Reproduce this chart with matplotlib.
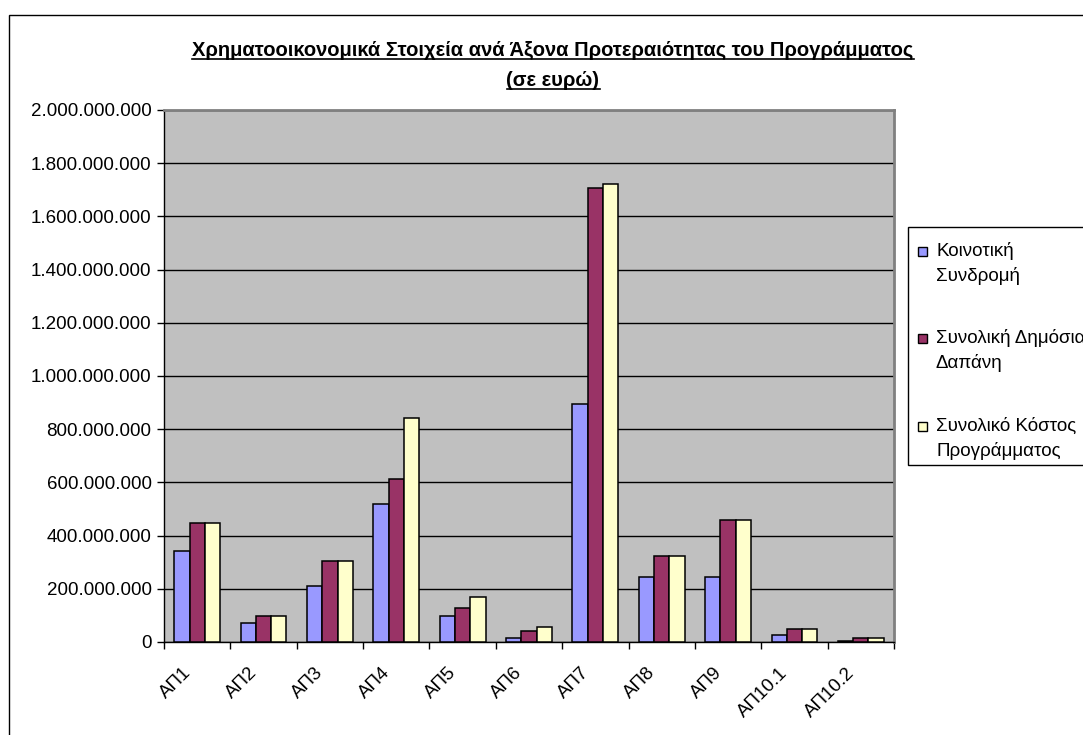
import matplotlib
matplotlib.use("Agg")
import matplotlib.pyplot as plt
import numpy as np
from matplotlib.ticker import FuncFormatter, FixedLocator
from matplotlib.patches import Rectangle
from matplotlib.lines import Line2D
from matplotlib.transforms import ScaledTranslation

categories = ["ΑΠ1", "ΑΠ2", "ΑΠ3", "ΑΠ4", "ΑΠ5", "ΑΠ6", "ΑΠ7", "ΑΠ8", "ΑΠ9", "ΑΠ10.1", "ΑΠ10.2"]
series_names = ["Κοινοτική\nΣυνδρομή", "Συνολική Δημόσια\nΔαπάνη", "Συνολικό Κόστος\nΠρογράμματος"]
koinotiki = [343e6, 72e6, 210e6, 519e6, 99e6, 14e6, 894e6, 244e6, 244e6, 26e6, 5e6]
dimosia = [446e6, 99e6, 303e6, 612e6, 126e6, 40e6, 1708e6, 322e6, 460e6, 48e6, 16e6]
kostos = [446e6, 99e6, 303e6, 842e6, 171e6, 55e6, 1721e6, 322e6, 460e6, 48e6, 16e6]
colors = ["#9999FF", "#993366", "#FFFFCC"]
yticks = [0, 200e6, 400e6, 600e6, 800e6, 1000e6, 1200e6, 1400e6, 1600e6, 1800e6, 2000e6]

plt.rcParams['font.family'] = ['Liberation Sans', 'DejaVu Sans']

W, H = 1083, 735
fig = plt.figure(figsize=(W / 100, H / 100), dpi=100)
ax = fig.add_axes([164 / W, 1 - 642 / H, (894 - 164) / W, (642 - 110) / H])
ax.set_facecolor("#C0C0C0")

x = np.arange(len(categories))
bw = 0.23
for i, (vals, c) in enumerate(zip([koinotiki, dimosia, kostos], colors)):
    ax.bar(x + (i - 1) * bw, vals, bw, color=c, edgecolor="black", linewidth=1.1, zorder=3)

ax.set_xlim(-0.5, len(categories) - 0.5)
ax.set_ylim(0, 2000e6)
ax.yaxis.set_major_locator(FixedLocator(yticks))
ax.yaxis.set_major_formatter(FuncFormatter(lambda v, p: f"{int(round(v)):,}".replace(",", ".")))
ax.grid(axis="y", color="black", linewidth=1.0, zorder=1)
ax.set_axisbelow(True)

ax.set_xticks(x)
ax.set_xticklabels(categories, rotation=45, ha="right", va="top", rotation_mode="anchor")
ax.set_xticks(np.arange(-0.5, len(categories)), minor=True)
ax.tick_params(axis="x", which="major", length=0, pad=16, labelsize=13.5)
ax.tick_params(axis="x", which="minor", length=5, width=1, direction="out", color="black")
ax.tick_params(axis="y", length=5, width=1, direction="out", labelsize=13.5, pad=4)
shift = ScaledTranslation(-15 / 100, 0, fig.dpi_scale_trans)
for lab in ax.get_xticklabels():
    lab.set_transform(lab.get_transform() + shift)

for s in ["left", "bottom"]:
    ax.spines[s].set_color("black")
    ax.spines[s].set_linewidth(1.0)
for s in ["top", "right"]:
    ax.spines[s].set_color("#808080")
    ax.spines[s].set_linewidth(2.0)

# Chart area border
fig.patches.append(Rectangle((9 / W, -0.2), 1.2, 1.2 - 15 / H, transform=fig.transFigure,
                             fill=False, edgecolor="black", linewidth=1.0))

# Title with underline
t1 = fig.text(553 / W, 1 - 50 / H, "Χρηματοοικονομικά Στοιχεία ανά Άξονα Προτεραιότητας του Προγράμματος",
              ha="center", va="center", fontsize=14.5, fontweight="bold")
t2 = fig.text(553 / W, 1 - 80 / H, "(σε ευρώ)", ha="center", va="center", fontsize=14.5, fontweight="bold")

# Legend (drawn manually, Excel style)
fig.patches.append(Rectangle((908 / W, 1 - 465 / H), 1.0, (465 - 227) / H, transform=fig.transFigure,
                             facecolor="white", edgecolor="black", linewidth=1.0, zorder=5))
entry_y = [251, 338, 426]
for name, c, ey in zip(series_names, colors, entry_y):
    fig.patches.append(Rectangle((918 / W, 1 - (ey + 5) / H), 9 / W, 9 / H, transform=fig.transFigure,
                                 facecolor=c, edgecolor="black", linewidth=1.0, zorder=6))
    for k, line in enumerate(name.split("\n")):
        fig.text(936 / W, 1 - (ey + 25 * k) / H, line, ha="left", va="center",
                 fontsize=13.5, zorder=7)

fig.canvas.draw()
r = fig.canvas.get_renderer()
for t in (t1, t2):
    bb = t.get_window_extent(r)
    yline = bb.y0 + 1
    fig.add_artist(Line2D([bb.x0 / W, bb.x1 / W], [yline / H, yline / H],
                          transform=fig.transFigure, color="black", linewidth=1.2))

fig.savefig("out.png", dpi=100)
